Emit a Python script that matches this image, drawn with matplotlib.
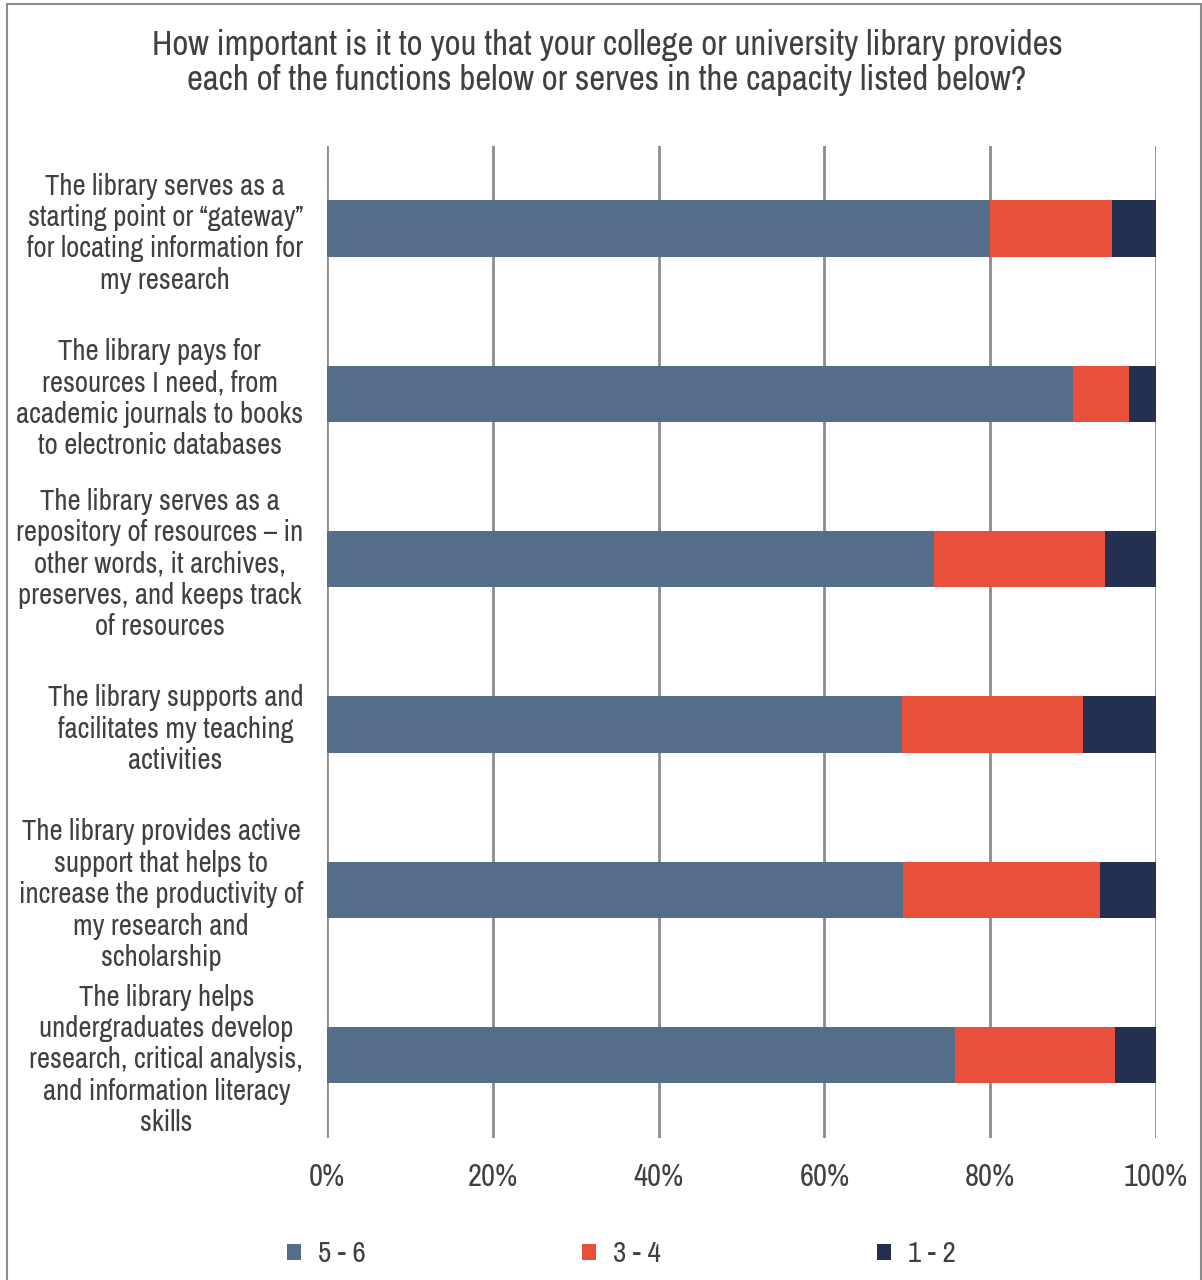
import matplotlib.pyplot as plt
from matplotlib import font_manager
from matplotlib.patches import Rectangle

# pick a narrow face if one is installed, else plain Liberation Sans
narrow = [f.name for f in font_manager.fontManager.ttflist
          if ("Narrow" in f.name or "Condensed" in f.name) and "Mono" not in f.name
          and "Serif" not in f.name]
family = narrow[0] if narrow else "Liberation Sans"
plt.rcParams["font.family"] = [family, "DejaVu Sans"]

categories = [
    "The library serves as a\nstarting point or \u201cgateway\u201d\nfor locating information for\nmy research",
    "The library pays for\nresources I need, from\nacademic journals to books\nto electronic databases",
    "The library serves as a\nrepository of resources \u2013 in\nother words, it archives,\npreserves, and keeps track\nof resources",
    "The library supports and\nfacilitates my teaching\nactivities",
    "The library provides active\nsupport that helps to\nincrease the productivity of\nmy research and\nscholarship",
    "The library helps\nundergraduates develop\nresearch, critical analysis,\nand information literacy\nskills",
]
high = [80.0, 90.0, 73.2, 69.4, 69.5, 75.8]    # 5 - 6
mid = [14.7, 6.7, 20.6, 21.8, 23.7, 19.3]      # 3 - 4
low = [5.3, 3.3, 6.2, 8.8, 6.8, 4.9]           # 1 - 2
series = ["5 - 6", "3 - 4", "1 - 2"]
colors = ["#546e89", "#e8503c", "#233050"]
text_col = "#404040"

fig = plt.figure(figsize=(12.02, 12.80), dpi=100)
ax = fig.add_axes([0.272, 0.111, 0.6898, 0.775])

y = list(range(len(categories)))
left = [0] * len(categories)
for vals, name, c in zip([high, mid, low], series, colors):
    ax.barh(y, vals, left=left, height=0.34, color=c, label=name, zorder=3)
    left = [a + b for a, b in zip(left, vals)]

ax.set_xlim(0, 100)
ax.set_ylim(5.5, -0.5)
ax.set_xticks(range(0, 101, 20))
ax.set_xticklabels([f"{v}%" for v in range(0, 101, 20)], fontsize=22, color=text_col)
ax.set_yticks(y)
ax.set_yticklabels(categories, fontsize=20.7, color=text_col, ha="right",
                   multialignment="center", linespacing=1.2)
ax.tick_params(axis="both", length=0)
ax.tick_params(axis="y", pad=17)
ax.tick_params(axis="x", pad=18)
for s in ax.spines.values():
    s.set_visible(False)
ax.grid(axis="x", color="#8c8c8c", linewidth=2, zorder=0)

fig.suptitle("How important is it to you that your college or university library provides\n"
             "each of the functions below or serves in the capacity listed below?",
             x=0.505, y=0.9777, fontsize=25, color=text_col, linespacing=1.15)

fig.legend(loc="lower center", bbox_to_anchor=(0.517, -0.0105), ncol=3, frameon=False,
           fontsize=21, handlelength=0.48, handleheight=0.48, handletextpad=0.6,
           columnspacing=7.4, labelcolor=text_col)

fig.patches.append(Rectangle((0.006, -0.01), 0.993, 1.007, transform=fig.transFigure,
                             fill=False, edgecolor="#8c8c8c", linewidth=1.5))

fig.savefig("out.png", dpi=100)
